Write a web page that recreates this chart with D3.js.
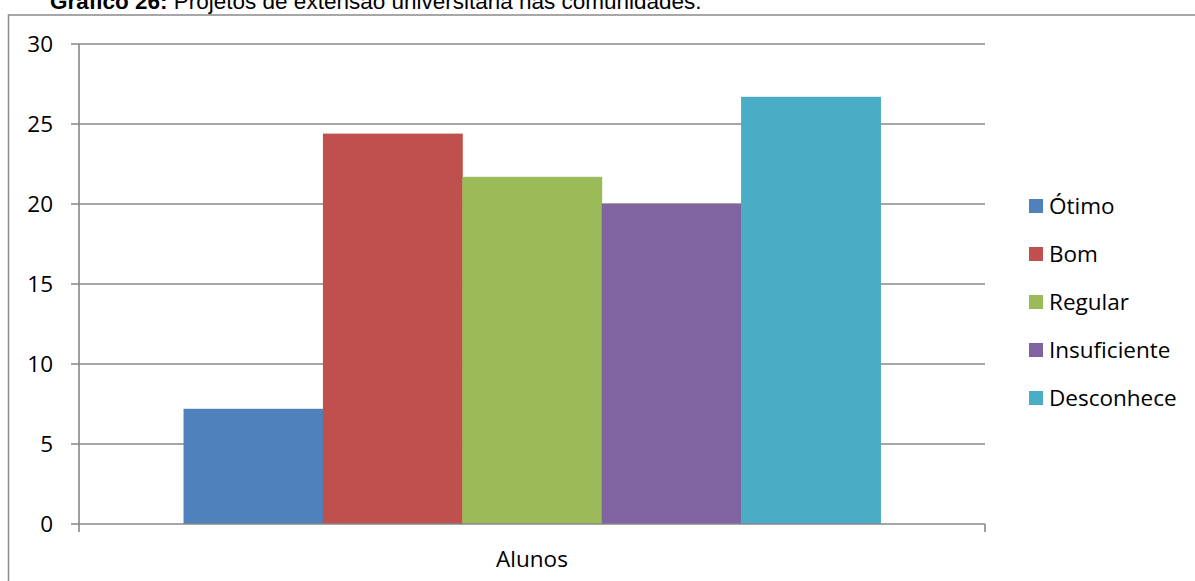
<!DOCTYPE html>
<html>
<head>
<meta charset="utf-8">
<script src="https://cdn.jsdelivr.net/npm/d3@7"></script>
<style>
  html, body { margin: 0; padding: 0; background: #fff; overflow: hidden; }
  svg { display: block; }
</style>
</head>
<body>
<svg id="chart" width="1195" height="581"></svg>
<script>
const categories = ["Alunos"];
const seriesNames = ["Ótimo", "Bom", "Regular", "Insuficiente", "Desconhece"];
const seriesValues = [7.2, 24.4, 21.7, 20.0, 26.7];
const seriesColors = ["#4F81BD", "#C0504D", "#9BBB59", "#8064A2", "#4BACC6"];
const yTicks = [0, 5, 10, 15, 20, 25, 30];
const titleBold = "Gráfico 26:";
const titleRest = " Projetos de extensão universitária nas comunidades.";

const svg = d3.select("#chart");
const font = "Open Sans, Lato, sans-serif";
const fs = 22.5;
const grid = "#878787";

const plot = { left: 79, right: 985, top: 44, bottom: 524 };

// title (partly cut off at top, as in the reference)
svg.append("text")
  .attr("x", 50).attr("y", 9)
  .attr("font-family", "Liberation Sans, Arial, sans-serif")
  .attr("font-size", 22.5)
  .attr("fill", "#000")
  .call(t => {
    t.append("tspan").attr("font-weight", "bold").text(titleBold);
    t.append("tspan").text(titleRest);
  });

// chart border
svg.append("rect")
  .attr("x", 8.5).attr("y", 15)
  .attr("width", 1300).attr("height", 700)
  .attr("fill", "none").attr("stroke", "#8a8a8a").attr("stroke-width", 1.5);

const y = d3.scaleLinear().domain([0, 30]).range([plot.bottom, plot.top]);
const x0 = d3.scaleBand().domain(categories).range([plot.left, plot.right])
  .paddingInner(0).paddingOuter(0.15);
const x1 = d3.scaleBand().domain(seriesNames).range([0, x0.bandwidth()]).padding(0);

// gridlines
svg.append("g").selectAll("line").data(yTicks.filter(d => d > 0)).join("line")
  .attr("x1", plot.left - 8).attr("x2", plot.right)
  .attr("y1", d => y(d)).attr("y2", d => y(d))
  .attr("stroke", grid).attr("stroke-width", 1.6);

// bars
const g = svg.append("g");
categories.forEach(cat => {
  g.selectAll("rect.b").data(seriesNames.map((s, i) => ({ s, v: seriesValues[i], c: seriesColors[i] })))
    .join("rect")
    .attr("x", d => x0(cat) + x1(d.s))
    .attr("width", x1.bandwidth() + 0.5)
    .attr("y", d => y(d.v))
    .attr("height", d => y(0) - y(d.v))
    .attr("fill", d => d.c);
});

// y axis line
svg.append("line")
  .attr("x1", plot.left).attr("x2", plot.left)
  .attr("y1", plot.top).attr("y2", plot.bottom + 8)
  .attr("stroke", grid).attr("stroke-width", 1.6);
// x axis line with tick at zero
svg.append("line")
  .attr("x1", plot.left - 8).attr("x2", plot.right)
  .attr("y1", y(0)).attr("y2", y(0))
  .attr("stroke", grid).attr("stroke-width", 1.6);
svg.append("line")
  .attr("x1", plot.right).attr("x2", plot.right)
  .attr("y1", y(0)).attr("y2", y(0) + 8)
  .attr("stroke", grid).attr("stroke-width", 1.6);

// y tick labels
svg.append("g").selectAll("text").data(yTicks).join("text")
  .attr("x", 53).attr("y", d => y(d))
  .attr("dy", "0.36em")
  .attr("text-anchor", "end")
  .attr("font-family", font).attr("font-size", fs)
  .attr("fill", "#000")
  .text(d => d);

// category label
svg.append("g").selectAll("text").data(categories).join("text")
  .attr("x", d => x0(d) + x0.bandwidth() / 2)
  .attr("y", 567)
  .attr("text-anchor", "middle")
  .attr("font-family", font).attr("font-size", fs)
  .attr("fill", "#000")
  .text(d => d);

// legend
const legend = svg.append("g");
const lg = legend.selectAll("g").data(seriesNames).join("g")
  .attr("transform", (d, i) => `translate(1029, ${206 + i * 48})`);
lg.append("rect").attr("x", 0).attr("y", -7).attr("width", 14).attr("height", 14)
  .attr("fill", (d, i) => seriesColors[i]);
lg.append("text").attr("x", 20).attr("y", 0).attr("dy", "0.36em")
  .attr("font-family", font).attr("font-size", fs)
  .attr("fill", "#000")
  .text(d => d);
</script>
</body>
</html>
